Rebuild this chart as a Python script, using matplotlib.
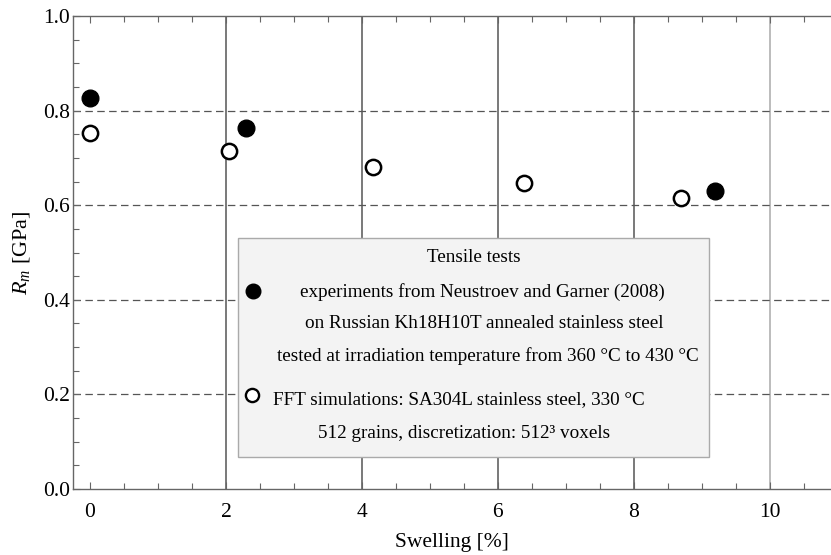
import matplotlib
matplotlib.use("Agg")
import matplotlib.pyplot as plt
from matplotlib.patches import Rectangle

# ---------------------------------------------------------------------------
# Data
# ---------------------------------------------------------------------------

exp_swelling = [0.0, 2.3, 9.2]
exp_rm = [0.826, 0.764, 0.631]

fft_swelling = [0.0, 2.04, 4.17, 6.38, 8.70]
fft_rm = [0.752, 0.715, 0.681, 0.647, 0.616]

x_major = [0, 2, 4, 6, 8, 10]
y_major = [0.0, 0.2, 0.4, 0.6, 0.8, 1.0]
v_grid = [2, 4, 6, 8, 10]
h_grid = [0.2, 0.4, 0.6, 0.8]

legend_title = "Tensile tests"
exp_lines = ["experiments from Neustroev and Garner (2008)",
             "on Russian Kh18H10T annealed stainless steel",
             "tested at irradiation temperature from 360 °C to 430 °C"]
fft_lines = ["FFT simulations: SA304L stainless steel, 330 °C",
             "512 grains, discretization: 512³ voxels"]

# ---------------------------------------------------------------------------
# Style
# ---------------------------------------------------------------------------

plt.rcParams["font.family"] = ["Liberation Serif", "DejaVu Serif"]
plt.rcParams["mathtext.fontset"] = "custom"
plt.rcParams["mathtext.rm"] = "Liberation Serif"
plt.rcParams["mathtext.it"] = "Liberation Serif:italic"

W, H = 831, 555
fig = plt.figure(figsize=(W / 100, H / 100), dpi=100)
AX_L, AX_R, AX_T, AX_B = 73, 831, 16, 489
ax = fig.add_axes([AX_L / W, 1 - AX_B / H, (AX_R - AX_L) / W, (AX_B - AX_T) / H])

ax.set_xlim(-0.25, 10.9)
ax.set_ylim(0, 1.0)

# grid: solid verticals, dashed horizontals
for xv in v_grid:
    col = "#aaaaaa" if xv == 10 else "#555555"
    ax.axvline(xv, color=col, lw=1.1, zorder=1)
for yv in h_grid:
    ax.axhline(yv, color="#555555", lw=0.9, dashes=(6, 3.5), zorder=1)

# data
ax.plot(exp_swelling, exp_rm, "o", color="black", ms=12, zorder=4)
ax.plot(fft_swelling, fft_rm, "o", mfc="white", mec="black", mew=1.8, ms=11, zorder=4)

# ticks
ax.set_xticks(x_major)
ax.set_yticks(y_major)
ax.set_xticklabels([str(v) for v in x_major])
ax.set_yticklabels([f"{v:.1f}" for v in y_major])
ax.set_xticks([v * 0.5 for v in range(0, 22)], minor=True)
ax.set_yticks([v * 0.05 for v in range(0, 21)], minor=True)
ax.tick_params(which="both", direction="in", top=True, right=False,
               color="#666666", labelsize=15.5, width=0.8)
ax.tick_params(which="major", length=5)
ax.tick_params(which="minor", length=4)
ax.tick_params(axis="x", which="major", pad=10)
ax.tick_params(axis="y", which="major", pad=2)

for side in ["left", "bottom", "top"]:
    ax.spines[side].set_color("#666666")
    ax.spines[side].set_linewidth(1.0)
ax.spines["right"].set_visible(False)

ax.set_xlabel("Swelling [%]", fontsize=15.5, labelpad=8)
ax.set_ylabel(r"$R_m$ [GPa]", fontsize=16, labelpad=8)

# ---------------------------------------------------------------------------
# Legend box (drawn by hand to get centered multi-line entries)
# ---------------------------------------------------------------------------

def px(x, y):
    return ((x - AX_L) / (AX_R - AX_L), (AX_B - y) / (AX_B - AX_T))

bx0, by0 = px(238, 457)
bx1, by1 = px(709, 238)
ax.add_patch(Rectangle((bx0, by0), bx1 - bx0, by1 - by0, transform=ax.transAxes,
                       facecolor="#f3f3f3", edgecolor="#aaaaaa", lw=1.0, zorder=5))

LFS = 13.8
ax.text(*px(474, 257), legend_title, transform=ax.transAxes, fontsize=LFS,
        ha="center", va="center", zorder=6)
for (cx, cy), line in zip([(482, 292), (484.5, 324), (487.5, 356)], exp_lines):
    ax.text(*px(cx, cy), line, transform=ax.transAxes, fontsize=LFS,
            ha="center", va="center", zorder=6)
for (cx, cy), line in zip([(459, 400), (464, 433)], fft_lines):
    ax.text(*px(cx, cy), line, transform=ax.transAxes, fontsize=LFS,
            ha="center", va="center", zorder=6)

mx, my = px(253, 291)
ax.plot([mx], [my], "o", color="black", ms=10.5, transform=ax.transAxes,
        zorder=6, clip_on=False)
mx, my = px(252, 395)
ax.plot([mx], [my], "o", mfc="white", mec="black", mew=1.7, ms=9.5,
        transform=ax.transAxes, zorder=6, clip_on=False)

fig.savefig("out.png", dpi=100)
